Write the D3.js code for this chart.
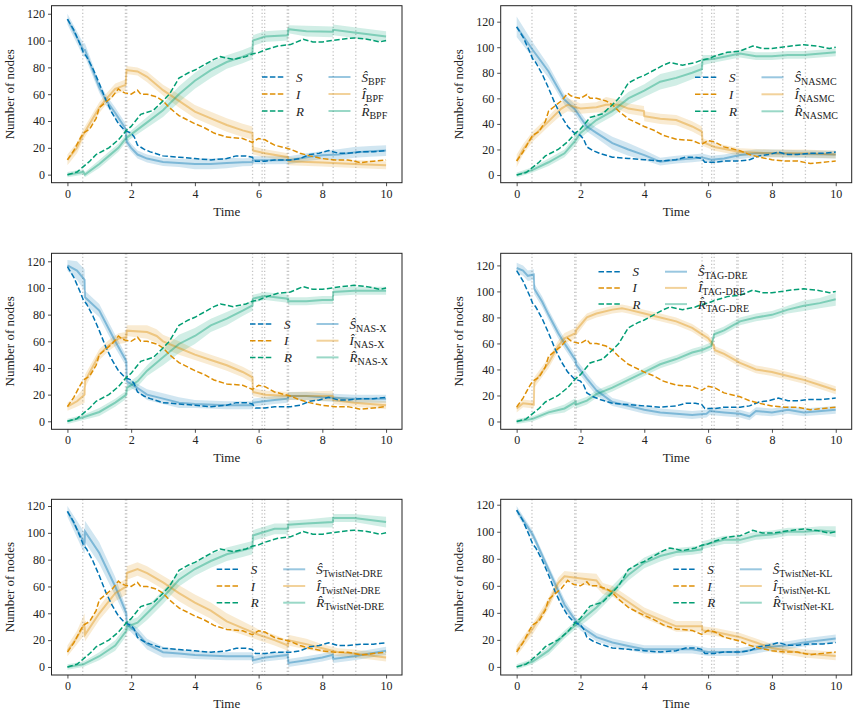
<!DOCTYPE html>
<html>
<head>
<meta charset="utf-8">
<script src="https://cdn.jsdelivr.net/npm/d3@7/dist/d3.min.js"></script>
<style>
  body { margin: 0; background: #fff; }
  svg text { font-family: "Liberation Serif", "DejaVu Serif", serif; fill: #222; }
</style>
</head>
<body>
<div id="chart"></div>
<script>
// ---- data ----
const xTicks = [0, 2, 4, 6, 8, 10];
const yTicks = [0, 20, 40, 60, 80, 100, 120];
const obsTimes = [0.48, 1.82, 1.86, 5.81, 6.11, 6.19, 6.90, 6.94, 8.34, 9.05];
const methodNames = ["BPF", "NASMC", "NAS-X", "TAG-DRE", "TwistNet-DRE", "TwistNet-KL"];

// ground truth [t, value]
const trueS = [[0,116],[0.2,108],[0.4,97],[0.5,91],[0.6,88],[0.8,79],[1.0,68],[1.2,56],[1.4,46],[1.6,38],[1.8,33],[2.0,31],[2.1,28],[2.2,22],[2.4,19],[2.6,17],[3.0,14],[3.5,13],[4.0,12],[4.5,11],[5.0,12],[5.3,14],[5.6,14],[5.8,13],[5.9,10],[6.2,10],[6.5,11],[7.0,11],[7.3,12],[7.6,15],[7.9,16],[8.2,18],[8.5,16],[8.8,16],[9.2,17],[9.6,17],[10,18]];
const trueI = [[0,11],[0.2,18],[0.4,27],[0.5,31],[0.7,34],[0.9,42],[1.0,50],[1.2,54],[1.4,58],[1.6,64],[1.7,62],[1.8,61],[2.0,60],[2.2,63],[2.3,60],[2.5,60],[2.8,58],[3.0,55],[3.2,50],[3.5,44],[4.0,38],[4.3,35],[4.6,31],[5.0,28],[5.5,27],[5.8,24],[6.0,27],[6.2,26],[6.5,22],[7.0,19],[7.3,16],[7.6,14],[8.0,12],[8.4,11],[8.8,11],[9.2,9],[9.6,10],[10,11]];
const trueR = [[0,0],[0.3,2],[0.5,6],[0.7,10],[0.9,15],[1.3,20],[1.6,26],[1.85,33],[2.0,36],[2.3,45],[2.7,48],[3.0,55],[3.2,60],[3.5,72],[3.8,76],[4.0,78],[4.3,82],[4.6,86],[4.8,88],[5.2,86],[5.6,88],[5.8,90],[6.0,91],[6.2,93],[6.6,96],[7.0,97],[7.4,101],[7.7,99],[8.0,99],[8.3,100],[8.6,101],[9.0,102],[9.4,101],[9.8,99],[10,100]];

// estimates [t, mean, half band]
const bpfS = [[0,116,4],[0.5,93,5],[0.55,93,5],[1.0,65,4],[1.2,56,4],[1.5,46,4],[1.83,34,4],[1.85,25,3],[2.0,20,3],[2.2,15,3],[2.5,12,3],[3.0,9.5,3],[3.5,8.7,3],[4.0,8,4],[4.5,8,4],[5.0,8.7,4],[5.5,9.2,3],[5.81,9.4,3],[5.82,10.7,3],[6.5,10.7,3],[7.0,11,3],[7.5,13,3],[8.0,14.4,3],[8.5,15,4],[9.0,16.6,4],[9.5,17.4,4],[10,18,4]];
const bpfI = [[0,11,4],[0.3,20,4],[0.5,30,4],[0.8,42,4],[1.0,50,4],[1.2,56,4],[1.5,64,4],[1.83,67,4],[1.85,78,3],[2.2,77,3],[2.5,73,4],[3.0,63,4],[3.5,55,5],[4.0,47,5],[4.5,42,5],[5.0,37,5],[5.5,33,5],[5.81,31,5],[5.82,18,3],[6.2,16,3],[6.92,13,3],[6.93,10,3],[8.0,9,3],[9.0,8,3],[10,7,3]];
const bpfR = [[0,0,2],[0.5,2,2],[0.55,0,2],[1.0,8,3],[1.3,14,3],[1.6,20,3],[1.83,27,3],[2.0,30,3],[2.5,39,4],[3.0,48,5],[3.5,60,6],[4.0,70,6],[4.5,78,6],[5.0,84,5],[5.5,88,5],[5.81,91,5],[5.82,100,4],[6.2,103,4],[6.92,104,4],[6.93,108.5,3],[7.5,107,4],[8.33,106.5,4],[8.34,108,4],[9.0,106,4],[10,103,4]];

const nasmcS = [[0,116,8],[0.5,98,6],[1.0,81,5],[1.5,59,4],[1.84,51,4],[2.0,45,4],[2.2,38,4],[2.5,33,4],[3.0,25,5],[3.5,20,5],[4.0,15.6,4],[4.5,10.5,3],[5.0,12,3],[5.5,13,3],[5.81,13.8,3],[6.1,12,3],[6.5,13,3],[7.0,15.6,3],[7.5,17,3],[8.0,17,3],[9.0,16.4,3],[10,16,3]];
const nasmcI = [[0,11,5],[0.2,20,4],[0.5,30,4],[1.0,42,4],[1.4,52,5],[1.6,55,5],[2.0,52,4],[2.5,53,4],[2.8,55,6],[3.2,55,4],[3.5,52,4],[3.99,50,4],[4.0,46,4],[4.5,44,4],[5.0,43,4],[5.5,38,4],[5.81,34,4],[5.82,26,3],[6.2,22,3],[7.0,18,3],[8.0,17,3],[9.0,17,3],[10,16,3]];
const nasmcR = [[0,0,2],[0.5,4,2],[1.0,10,3],[1.5,17,3],[1.84,27,4],[2.0,33,4],[2.5,43,4],[3.0,50,4],[3.5,60,5],[4.0,66,5],[4.5,73,6],[5.0,76,6],[5.5,80,5],[5.81,83,5],[5.82,90,4],[6.2,91,3],[7.0,95,3],[7.5,93,3],[8.0,93,3],[8.5,94,3],[9.0,94,3],[10,96,3]];

const nasxS = [[0,117,4],[0.3,113,7],[0.54,106,8],[0.55,93,5],[1.0,83,5],[1.5,60,5],[1.85,45,4],[1.86,30,3],[2.2,25,3],[2.5,20,4],[3.0,17,4],[3.5,14,4],[4.0,13,3],[5.0,12,3],[5.81,12,3],[5.82,14,3],[6.5,16,3],[6.92,17,3],[6.93,19,3],[7.5,19,3],[8.0,18,3],[9.0,17,3],[10,17,3]];
const nasxI = [[0,11,3],[0.3,15,4],[0.54,20,6],[0.55,30,5],[1.0,50,4],[1.3,57,4],[1.6,62,4],[1.85,63,4],[1.86,68,4],[2.5,67,5],[2.8,64,5],[3.0,60,5],[3.5,55,5],[4.0,50,4],[4.5,46,4],[5.0,42,4],[5.5,37,4],[5.81,33,4],[5.82,22,3],[6.2,20,3],[7.0,19,3],[8.33,19,4],[8.34,16,3],[9.0,14,3],[10,12,3]];
const nasxR = [[0,0,2],[0.5,3,2],[1.0,7,3],[1.5,14,3],[1.85,20,3],[1.86,25,3],[2.2,30,4],[2.5,38,4],[3.0,48,6],[3.5,58,7],[4.0,64,6],[4.5,72,5],[5.0,77,5],[5.5,83,4],[5.81,87,4],[5.82,92,3],[6.2,94,3],[6.92,92,3],[6.93,90,3],[7.5,90,3],[8.0,91,3],[8.33,91,3],[8.34,97,3],[9.0,98,3],[10,98,3]];

const tagS = [[0,118,4],[0.2,116,4],[0.35,112,4],[0.54,113,4],[0.55,102,4],[0.8,92,4],[1.0,82,4],[1.3,68,4],[1.5,60,4],[1.85,47,4],[1.86,44,4],[2.2,33,4],[2.5,24,4],[3.0,15,3],[3.5,12,3],[4.0,9,3],[4.5,7,3],[5.0,6,3],[5.5,5,3],[5.95,6,3],[6.05,8,3],[6.5,7,3],[7.0,6,3],[7.3,4,3],[7.5,8,3],[8.0,7,3],[8.5,9,3],[9.0,7,3],[10,9,3]];
const tagI = [[0,10,3],[0.2,14,3],[0.54,13,3],[0.55,30,4],[1.0,45,4],[1.3,58,4],[1.5,64,4],[1.85,68,4],[1.86,70,4],[2.2,80,3],[2.5,83,3],[3.0,86,3],[3.3,87,3],[3.5,86,3],[4.0,83,3],[4.5,80,3],[5.0,77,3],[5.5,72,3],[5.81,67,3],[6.0,64,3],[6.19,58,3],[6.2,55,3],[6.5,52,3],[7.0,45,3],[7.5,40,3],[8.0,38,3],[8.5,35,3],[9.0,32,3],[9.5,28,3],[10,24,3]];
const tagR = [[0,0,2],[0.5,2,2],[1.0,7,2],[1.5,10,3],[1.85,15,3],[1.86,13,3],[2.2,16,3],[2.5,21,3],[3.0,26,3],[3.5,32,3],[4.0,38,3],[4.5,44,3],[5.0,48,3],[5.5,53,3],[5.81,55,3],[6.1,58,3],[6.19,67,3],[6.5,70,3],[7.0,77,3],[7.5,80,3],[8.0,82,3],[8.5,86,3],[9.0,89,4],[9.5,91,4],[10,94,5]];

const twdS = [[0,116,4],[0.54,92,8],[0.55,101,8],[1.0,85,8],[1.5,60,7],[1.85,40,4],[1.86,32,3],[2.2,25,4],[2.5,17,4],[3.0,11,4],[3.5,10,3],[4.0,9,3],[5.0,8,3],[5.81,8,3],[5.82,5,3],[6.2,7,3],[6.92,9,3],[6.93,3,3],[7.5,5,3],[8.0,7,3],[8.33,9,3],[8.34,6,3],[9.0,8,3],[10,12,3]];
const twdI = [[0,12,4],[0.3,22,5],[0.54,32,8],[0.55,24,5],[1.0,40,5],[1.5,55,6],[1.85,60,6],[1.86,70,5],[2.2,73,5],[2.5,70,5],[3.0,63,5],[3.5,55,6],[4.0,48,6],[4.5,42,6],[5.0,34,6],[5.5,29,5],[6.0,24,4],[6.5,20,4],[6.92,16,4],[6.93,20,4],[7.5,17,4],[8.0,14,3],[8.5,11,3],[9.0,10,3],[10,7,3]];
const twdR = [[0,0,2],[0.5,2,2],[1.0,8,3],[1.5,16,4],[1.85,27,4],[1.86,30,4],[2.2,33,4],[2.5,40,5],[3.0,52,5],[3.5,65,5],[4.0,73,5],[4.5,79,5],[5.0,84,5],[5.5,87,5],[5.81,89,5],[5.82,98,4],[6.5,103,4],[6.92,103,4],[6.93,106,3],[7.5,107,3],[8.33,108,4],[8.34,111,3],[9.0,111,3],[10,108,4]];

const twkS = [[0,116,3],[0.5,98,3],[0.6,93,3],[1.0,72,3],[1.5,46,4],[1.85,34,3],[2.0,30,3],[2.5,22,3],[3.0,18,3],[3.5,15.5,3],[4.0,13,3],[5.0,13,3],[5.5,13,3],[6.0,11,3],[7.0,11,3],[7.5,13,3],[8.0,15,3],[8.5,16,3],[9.0,18,3],[10,21,3]];
const twkI = [[0,12,4],[0.5,28,4],[1.0,47,4],[1.3,62,4],[1.5,67,4],[1.85,66,4],[2.5,64,5],[2.7,58,4],[3.0,56,4],[3.5,48,4],[4.0,40,4],[4.5,35,4],[5.0,30,4],[5.5,30,4],[5.81,30,4],[5.82,27,3],[6.2,26,3],[7.0,22,3],[7.5,18,3],[8.0,14,3],[8.5,12,3],[9.0,10,3],[10,8,3]];
const twkR = [[0,0,2],[0.5,4,2],[1.0,12,3],[1.5,24,3],[1.85,31,3],[2.2,38,4],[2.5,44,4],[3.0,56,4],[3.5,68,4],[4.0,77,4],[4.5,82,4],[5.0,85,3],[5.5,86,3],[5.81,87,3],[5.82,90,3],[6.5,94,3],[7.0,94,3],[7.5,97,3],[8.0,98,3],[8.5,100,3],[9.0,100,3],[9.5,101,3],[10,100,4]];

const estimates = [
  [bpfS, bpfI, bpfR], [nasmcS, nasmcI, nasmcR], [nasxS, nasxI, nasxR],
  [tagS, tagI, tagR], [twdS, twdI, twdR], [twkS, twkI, twkR]
];

// ---- layout ----
const W = 858, H = 717;
const colors = ["#0173b2", "#de8f05", "#029e73"];
const letters = ["S", "I", "R"];
const hatted = ["\u015C", "\u00CE", "R\u0302"];

const cols = [{l: 51.5, r: 402}, {l: 500.7, r: 851.7}];
const rows = [{t: 5.7, b: 182.7}, {t: 253.3, b: 429.3}, {t: 499.3, b: 675}];
const yTop = [126, 132.5, 126, 129.3, 125, 124];
// legend: left handle start x, first row y, row gap
const legendPos = [
  {x: 262, y: 77, gap: 17}, {x: 695, y: 77.3, gap: 17},
  {x: 250, y: 324, gap: 16.7}, {x: 598.5, y: 271.7, gap: 16.2},
  {x: 216.7, y: 569.3, gap: 16.7}, {x: 673.3, y: 569.3, gap: 16.7}
];

const svg = d3.select("#chart").append("svg")
  .attr("width", W).attr("height", H);

methodNames.forEach(function(name, p) {
  const c = cols[p % 2], r = rows[Math.floor(p / 2)];
  const x = d3.scaleLinear().domain([-0.5, 10.5]).range([c.l, c.r]);
  const y = d3.scaleLinear().domain([-6, yTop[p]]).range([r.b, r.t]);
  const g = svg.append("g");

  g.append("clipPath").attr("id", "clip" + p)
    .append("rect").attr("x", c.l).attr("y", r.t)
    .attr("width", c.r - c.l).attr("height", r.b - r.t);
  const plot = g.append("g").attr("clip-path", "url(#clip" + p + ")");

  // observation times
  plot.selectAll(".obs").data(obsTimes).enter().append("line")
    .attr("x1", d => x(d)).attr("x2", d => x(d))
    .attr("y1", r.t).attr("y2", r.b)
    .attr("stroke", "#c4c4c4").attr("stroke-width", 1.3)
    .attr("stroke-dasharray", "1.3,2.2");

  const area = d3.area().x(d => x(d[0])).y0(d => y(d[1] - d[2])).y1(d => y(d[1] + d[2]));
  const line = d3.line().x(d => x(d[0])).y(d => y(d[1]));

  estimates[p].forEach(function(ser, k) {
    plot.append("path").datum(ser).attr("d", area)
      .attr("fill", colors[k]).attr("fill-opacity", 0.18);
  });
  estimates[p].forEach(function(ser, k) {
    plot.append("path").datum(ser).attr("d", line)
      .attr("fill", "none").attr("stroke", colors[k])
      .attr("stroke-opacity", 0.4).attr("stroke-width", 2);
  });
  [trueS, trueI, trueR].forEach(function(ser, k) {
    plot.append("path").datum(ser).attr("d", line)
      .attr("fill", "none").attr("stroke", colors[k])
      .attr("stroke-width", 1.5).attr("stroke-dasharray", "5.5,2.4");
  });

  // axes
  const xAxis = g.append("g").attr("transform", "translate(0," + r.b + ")")
    .call(d3.axisBottom(x).tickValues(xTicks).tickSize(3.5).tickPadding(3));
  const yAxis = g.append("g").attr("transform", "translate(" + c.l + ",0)")
    .call(d3.axisLeft(y).tickValues(yTicks).tickSize(3.5).tickPadding(3));
  [xAxis, yAxis].forEach(function(a) {
    a.select(".domain").remove();
    a.selectAll("line").attr("stroke", "#222").attr("stroke-width", 0.8);
    a.selectAll("text").attr("font-size", 12)
      .attr("font-family", "'Liberation Serif', serif").attr("fill", "#222");
  });
  g.append("rect").attr("x", c.l).attr("y", r.t)
    .attr("width", c.r - c.l).attr("height", r.b - r.t)
    .attr("fill", "none").attr("stroke", "#222").attr("stroke-width", 1);

  g.append("text").attr("x", (c.l + c.r) / 2).attr("y", r.b + 33)
    .attr("text-anchor", "middle").attr("font-size", 13).text("Time");
  g.append("text")
    .attr("transform", "translate(" + (c.l - 38) + "," + ((r.t + r.b) / 2) + ") rotate(-90)")
    .attr("text-anchor", "middle").attr("font-size", 13).text("Number of nodes");

  // legend
  const lp = legendPos[p];
  const lg = g.append("g");
  letters.forEach(function(L, k) {
    const yy = lp.y + k * lp.gap;
    lg.append("line").attr("x1", lp.x).attr("x2", lp.x + 22).attr("y1", yy).attr("y2", yy)
      .attr("stroke", colors[k]).attr("stroke-width", 1.5).attr("stroke-dasharray", "5.5,2.4");
    lg.append("text").attr("x", lp.x + 34).attr("y", yy + 4.5)
      .attr("font-size", 13).attr("font-style", "italic").text(L);
    const x2 = lp.x + 66.5;
    lg.append("line").attr("x1", x2).attr("x2", x2 + 22).attr("y1", yy).attr("y2", yy)
      .attr("stroke", colors[k]).attr("stroke-opacity", 0.4).attr("stroke-width", 2);
    const t = lg.append("text").attr("x", x2 + 33).attr("y", yy + 4.5).attr("font-size", 13);
    t.append("tspan").attr("font-style", "italic").text(hatted[k]);
    t.append("tspan").attr("font-size", 10).attr("dy", 3).text(name);
  });
});
</script>
</body>
</html>
